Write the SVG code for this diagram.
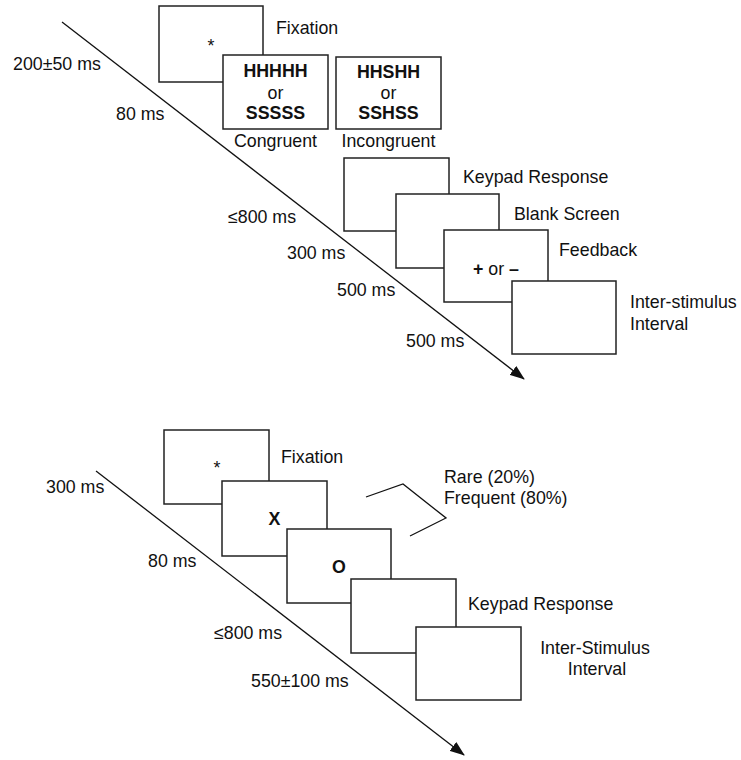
<svg xmlns="http://www.w3.org/2000/svg" width="741" height="760" viewBox="0 0 741 760">
<style>
.box{fill:#fff;stroke:#222;stroke-width:1.5}
text{font-family:"Liberation Sans",Arial,sans-serif;font-size:17.8px;fill:#111}
.b{font-weight:bold}
.m{text-anchor:middle}
.ln{stroke:#111;stroke-width:1.3;fill:none}
</style>
<defs>
<marker id="ah" markerWidth="15" markerHeight="11" refX="14" refY="5.5" orient="auto" markerUnits="userSpaceOnUse">
<path d="M0,0 L15,5.5 L0,11 Z" fill="#111"/>
</marker>
</defs>
<rect width="741" height="760" fill="#fff"/>
<g id="connectors">
<line class="ln" x1="62" y1="22" x2="524" y2="379" marker-end="url(#ah)"/>
<line class="ln" x1="96" y1="471" x2="464" y2="755" marker-end="url(#ah)"/>
<polyline class="ln" points="366,497 403,484 446,518 410,536"/>
</g>
<g id="top-fixation"><rect class="box" x="159" y="6" width="104" height="76"/><text class="m" x="211" y="52">*</text><text x="276" y="34">Fixation</text></g>
<g id="top-congruent"><rect class="box" x="223" y="55" width="105" height="74"/><text class="m b" x="275.5" y="77">HHHHH</text><text class="m" x="275.5" y="99">or</text><text class="m b" x="275.5" y="119">SSSSS</text><text class="m" x="275.5" y="147">Congruent</text></g>
<g id="top-incongruent"><rect class="box" x="336" y="57" width="105" height="72"/><text class="m b" x="388.5" y="78">HHSHH</text><text class="m" x="388.5" y="99">or</text><text class="m b" x="388.5" y="119">SSHSS</text><text class="m" x="388.5" y="147">Incongruent</text></g>
<g id="top-keypad"><rect class="box" x="344" y="158" width="105" height="73"/><text x="463" y="183">Keypad Response</text></g>
<g id="top-blank"><rect class="box" x="396" y="194" width="103" height="74"/><text x="514" y="220">Blank Screen</text></g>
<g id="top-feedback"><rect class="box" x="444" y="230" width="104" height="72"/><text class="m" x="496" y="275"><tspan class="b">+</tspan> or <tspan class="b">–</tspan></text><text x="559" y="256">Feedback</text></g>
<g id="top-isi"><rect class="box" x="512" y="281" width="104" height="73"/><text x="630" y="308">Inter-stimulus</text><text x="630" y="330">Interval</text></g>
<g id="top-times">
<text x="13" y="70">200±50 ms</text>
<text x="116" y="120">80 ms</text>
<text x="228" y="223">≤800 ms</text>
<text x="287" y="259">300 ms</text>
<text x="337" y="296">500 ms</text>
<text x="406" y="347">500 ms</text>
</g>
<g id="bot-fixation"><rect class="box" x="164" y="430" width="105" height="74"/><text class="m" x="217" y="474">*</text><text x="281" y="463">Fixation</text></g>
<g id="bot-x"><rect class="box" x="222" y="481" width="105" height="75"/><text class="m b" x="274.5" y="525">X</text></g>
<g id="bot-o"><rect class="box" x="287" y="529" width="104" height="74"/><text class="m b" x="339" y="573">O</text></g>
<g id="bot-prob"><text x="444" y="483">Rare (20%)</text><text x="444" y="504">Frequent (80%)</text></g>
<g id="bot-keypad"><rect class="box" x="351" y="579" width="105" height="74"/><text x="468" y="610">Keypad Response</text></g>
<g id="bot-isi"><rect class="box" x="416" y="627" width="105" height="73"/><text class="m" x="595" y="654">Inter-Stimulus</text><text class="m" x="597" y="675">Interval</text></g>
<g id="bot-times">
<text x="46" y="493">300 ms</text>
<text x="148" y="567">80 ms</text>
<text x="214" y="639">≤800 ms</text>
<text x="251" y="687">550±100 ms</text>
</g>
</svg>
